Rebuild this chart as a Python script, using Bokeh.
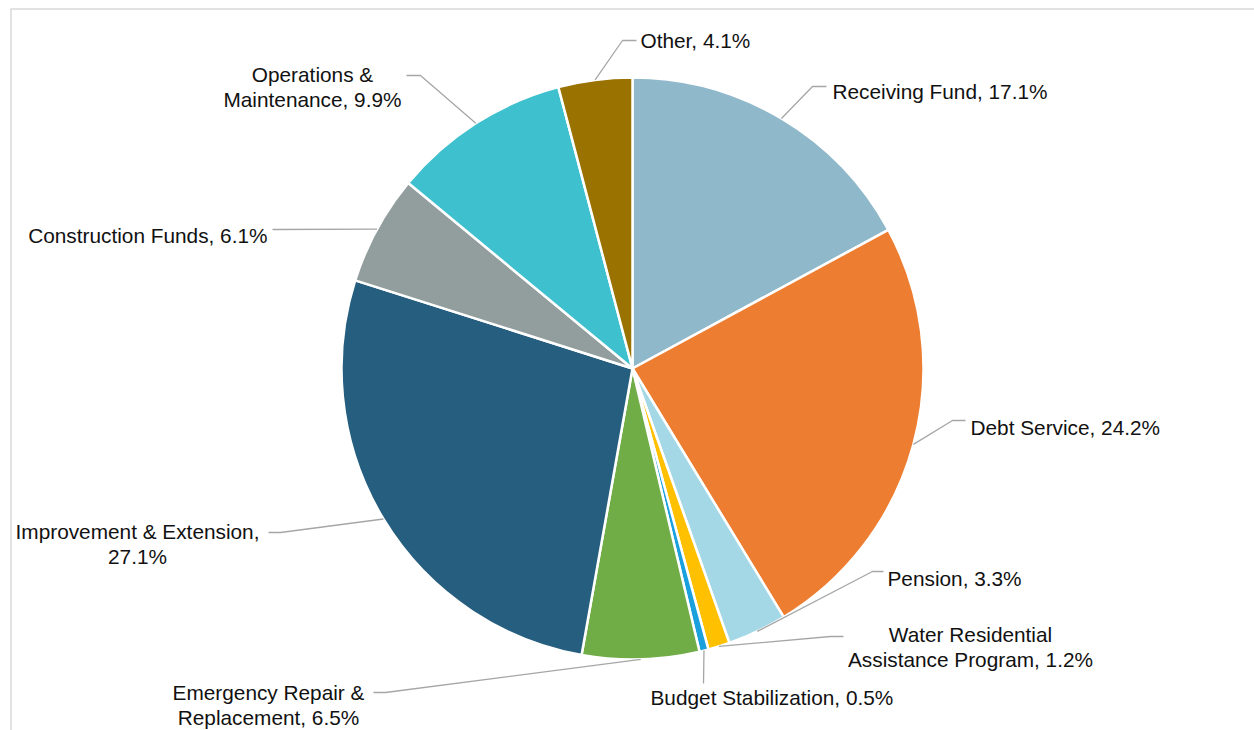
import math
from bokeh.plotting import figure
from bokeh.models import Range1d
from bokeh.core.properties import value
from bokeh.embed import file_html
from bokeh.resources import INLINE

# ---- data ----
categories = ["Receiving Fund", "Debt Service", "Pension",
              "Water Residential Assistance Program", "Budget Stabilization",
              "Emergency Repair & Replacement", "Improvement & Extension",
              "Construction Funds", "Operations & Maintenance", "Other"]
shares = [17.1, 24.2, 3.3, 1.2, 0.5, 6.5, 27.1, 6.1, 9.9, 4.1]
colors = ["#8FB8CA", "#ED7D31", "#A5D8E6", "#FFC000", "#1AA0DC",
          "#70AD47", "#255E7E", "#929E9E", "#3FC0CF", "#9A7200"]
label_lines = [["Receiving Fund, 17.1%"], ["Debt Service, 24.2%"], ["Pension, 3.3%"],
               ["Water Residential", "Assistance Program, 1.2%"],
               ["Budget Stabilization, 0.5%"],
               ["Emergency Repair &", "Replacement, 6.5%"],
               ["Improvement & Extension,", "27.1%"],
               ["Construction Funds, 6.1%"],
               ["Operations &", "Maintenance, 9.9%"], ["Other, 4.1%"]]

# ---- layout (page pixel coordinates) ----
W, H = 1254, 730
CX, CY, R = 632, 368, 291
FONT = "Liberation Sans"
FS = "20.8px"
# label anchor: (x, y of first line, align)
label_pos = [(832, 91, "left"), (970, 427, "left"), (887, 578, "left"),
             (970, 634, "center"), (650, 697, "left"), (268, 692, "center"),
             (137, 531, "center"), (267, 235, "right"), (312, 74, "center"),
             (640, 40, "left")]
# leader path after the slice edge point
leader_pts = [[(812, 86), (826, 86)], [(952, 420), (965, 420)],
              [(872, 571), (883, 571)], [(830, 636), (843, 636)],
              [(703, 683)], [(385, 692), (373, 692)],
              [(280, 532), (268, 532)], [(272, 229)],
              [(420, 75), (406, 75)], [(622, 40), (636, 40)]]
LINE_H = 25


def dx(sx):
    return sx


def dy(sy):
    return H - sy


p = figure(width=W, height=H, output_backend="svg", toolbar_location=None,
           x_range=Range1d(0, W), y_range=Range1d(0, H), min_border=0)
p.axis.visible = False
p.grid.visible = False
p.outline_line_color = None
p.background_fill_color = "white"
p.border_fill_color = "white"

# frame border (top and left edges visible)
p.segment(x0=[dx(10), dx(10.5)], y0=[dy(8.5), dy(8.5)], x1=[W + 5, dx(10.5)], y1=[dy(8.5), -5],
          line_color="#d9d9d9", line_width=1.5)

# wedges
total = sum(shares)
starts, ends, mids = [], [], []
acc = 0.0
for s in shares:
    a0 = math.pi / 2 - 2 * math.pi * acc / total
    a1 = math.pi / 2 - 2 * math.pi * (acc + s) / total
    starts.append(a0)
    ends.append(a1)
    mids.append(2 * math.pi * (acc + s / 2) / total)
    acc += s

p.wedge(x=[dx(CX)] * len(shares), y=[dy(CY)] * len(shares), radius=R,
        start_angle=starts, end_angle=ends, direction="clock",
        fill_color=colors, line_color="white", line_width=2.5)

# leader lines
xs, ys = [], []
for m, pts in zip(mids, leader_pts):
    ex = CX + R * math.sin(m)
    ey = CY - R * math.cos(m)
    path = [(ex, ey)] + pts
    xs.append([dx(a) for a, b in path])
    ys.append([dy(b) for a, b in path])
p.multi_line(xs=xs, ys=ys, line_color="#a6a6a6", line_width=1.3)

# labels
for lines, (lx, ly, al) in zip(label_lines, label_pos):
    for i, t in enumerate(lines):
        p.text(x=[dx(lx)], y=[dy(ly + i * LINE_H)], text=[t], text_align=al,
               text_baseline="middle", text_font=value(FONT), text_font_size=FS,
               text_color="#111111")

open("out.html", "w").write(file_html(p, INLINE))
